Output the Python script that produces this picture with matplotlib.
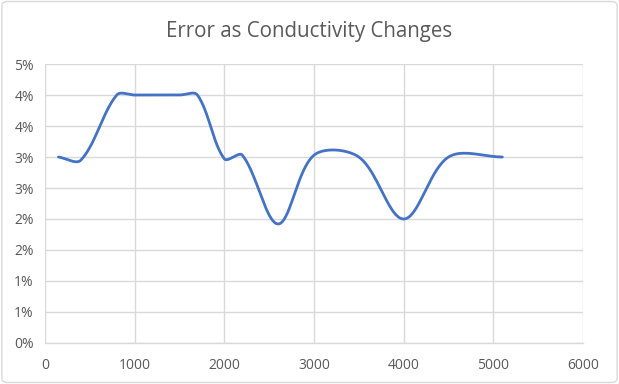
import numpy as np
import matplotlib
matplotlib.use("Agg")
import matplotlib.pyplot as plt
from matplotlib.ticker import FuncFormatter, MultipleLocator
from matplotlib.patches import FancyBboxPatch

conductivity = [150, 400, 800, 1000, 1500, 1700, 2000, 2200, 2600, 3000, 3500, 4000, 4500, 5100]
error_pct = [3.0, 2.95, 4.0, 4.0, 4.0, 4.0, 2.97, 3.03, 1.92, 3.03, 3.0, 2.0, 3.0, 3.0]

fig = plt.figure(figsize=(6.19, 3.84), dpi=100)
fig.patch.set_facecolor("white")
border = FancyBboxPatch((0.003, 0.004), 0.994, 0.992, boxstyle="round,pad=0,rounding_size=0.01",
                        transform=fig.transFigure, facecolor="none", edgecolor="#d9d9d9", lw=1.0)
fig.patches.append(border)

ax = fig.add_axes([0.0727, 0.1068, 0.8692, 0.7265])
ax.set_facecolor("none")
ax.set_xlim(0, 6000)
ax.set_ylim(0, 4.5)


def smooth_display(ax, xs, ys, n=40):
    # smoothed line computed in display (pixel) space, tangents weighted by segment lengths
    P = ax.transData.transform(np.column_stack([xs, ys]).astype(float))
    m = len(P)
    out = []
    for i in range(m - 1):
        p0 = P[i - 1] if i > 0 else P[i]
        p1 = P[i]
        p2 = P[i + 1]
        p3 = P[i + 2] if i + 2 < m else P[i + 1]
        d01 = np.linalg.norm(p1 - p0)
        d12 = np.linalg.norm(p2 - p1)
        d23 = np.linalg.norm(p3 - p2)
        f1 = d12 / (d01 + d12) / 3.0 if d01 + d12 > 0 else 0
        f2 = d12 / (d12 + d23) / 3.0 if d12 + d23 > 0 else 0
        c1 = p1 + (p2 - p0) * f1
        c2 = p2 - (p3 - p1) * f2
        t = np.linspace(0, 1, n)[:, None]
        seg = ((1 - t) ** 3) * p1 + 3 * t * (1 - t) ** 2 * c1 + 3 * t ** 2 * (1 - t) * c2 + t ** 3 * p2
        out.append(seg if i == 0 else seg[1:])
    S = ax.transData.inverted().transform(np.vstack(out))
    return S[:, 0], S[:, 1]


sx, sy = smooth_display(ax, conductivity, error_pct)
ax.plot(sx, sy, color="#4472C4", lw=2.0, solid_capstyle="round", zorder=3)

ax.xaxis.set_major_locator(MultipleLocator(1000))
ax.yaxis.set_major_locator(MultipleLocator(0.5))
ax.yaxis.set_major_formatter(FuncFormatter(lambda v, p: f"{int(np.floor(v + 0.5))}%"))
ax.grid(True, color="#d9d9d9", lw=1.0)
ax.set_axisbelow(True)
for s in ["top", "right", "left"]:
    ax.spines[s].set_visible(False)
ax.spines["bottom"].set_color("#d9d9d9")
ax.spines["bottom"].set_linewidth(1.0)
ax.tick_params(length=0, colors="#595959", labelsize=10)
ax.tick_params(axis="x", pad=11)
ax.tick_params(axis="y", pad=8)
for lab in ax.get_xticklabels() + ax.get_yticklabels():
    lab.set_fontfamily("Open Sans")

fig.text(0.5, 0.918, "Error as Conductivity Changes", ha="center", va="center",
         fontsize=14.8, color="#595959", family="Open Sans")

fig.savefig("out.png", dpi=100)
